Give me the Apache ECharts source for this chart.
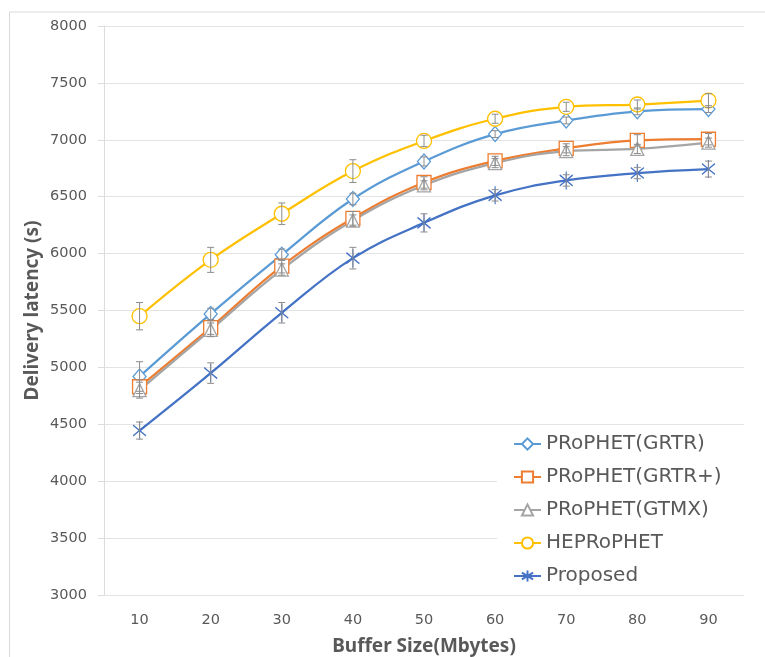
<!DOCTYPE html>
<html>
<head>
<meta charset="utf-8">
<title>Delivery latency vs buffer size</title>
<script src="https://cdn.jsdelivr.net/npm/echarts@6/dist/echarts.min.js"></script>
<style>
  html, body { margin: 0; padding: 0; background: #ffffff; }
  #chart { width: 765px; height: 657px; }
</style>
</head>
<body>
<div id="chart"></div>
<script>
// Buffer sizes (Mbytes) on the category axis
const bufferSizes = ['10', '20', '30', '40', '50', '60', '70', '80', '90'];

// Mean delivery latency (s) per routing scheme
const grtr      = [4920, 5470, 5990, 6480, 6810, 7050, 7170, 7250, 7270];
const grtrPlus  = [4830, 5350, 5890, 6310, 6625, 6815, 6925, 6995, 7005];
const gtmx      = [4800, 5330, 5860, 6290, 6600, 6795, 6900, 6920, 6975];
const heprophet = [5450, 5945, 6350, 6725, 6990, 7185, 7290, 7310, 7345];
const proposed  = [4445, 4950, 5480, 5960, 6270, 6512, 6643, 6708, 6743];

// Half-width of the error bars (s)
const grtrErr      = [130, 50, 50, 50, 40, 30, 30, 30, 30];
const grtrPlusErr  = [60, 60, 60, 60, 50, 40, 40, 50, 50];
const gtmxErr      = [70, 60, 50, 50, 40, 40, 40, 40, 40];
const heprophetErr = [120, 110, 95, 100, 50, 40, 40, 40, 60];
const proposedErr  = [75, 90, 90, 95, 80, 50, 50, 50, 70];

// Y axis range and step
const yMin = 3000, yMax = 8000, yStep = 500;

const seriesNames = ['PRoPHET(GRTR)', 'PRoPHET(GRTR+)', 'PRoPHET(GTMX)', 'HEPRoPHET', 'Proposed'];

const chart = echarts.init(document.getElementById('chart'), null, { renderer: 'canvas' });

const starPath = 'path://M6,0L6,20M0,4L12,16M0,16L12,4';

function lineSeries(name, values, color, symbol, size) {
  return {
    name: name,
    type: 'line',
    data: values,
    smooth: 0.4,
    symbol: symbol,
    symbolSize: size,
    showSymbol: true,
    lineStyle: { color: color, width: 2.25 },
    itemStyle: { color: '#ffffff', borderColor: color, borderWidth: 1.3 },
    emphasis: { disabled: true },
    z: 3
  };
}

function errorSeries(values, errs) {
  const data = values.map((v, i) => [i, v - errs[i], v + errs[i]]);
  return {
    type: 'custom',
    silent: true,
    z: 4,
    data: data,
    encode: { x: 0, y: [1, 2] },
    renderItem: function (params, api) {
      const idx = api.value(0);
      const lo = api.coord([idx, api.value(1)]);
      const hi = api.coord([idx, api.value(2)]);
      const cap = 3.5;
      const style = { stroke: '#8c8c8c', lineWidth: 1 };
      return {
        type: 'group',
        children: [
          { type: 'line', shape: { x1: lo[0], y1: lo[1], x2: hi[0], y2: hi[1] }, style: style },
          { type: 'line', shape: { x1: lo[0] - cap, y1: lo[1], x2: lo[0] + cap, y2: lo[1] }, style: style },
          { type: 'line', shape: { x1: hi[0] - cap, y1: hi[1], x2: hi[0] + cap, y2: hi[1] }, style: style }
        ]
      };
    }
  };
}

const option = {
  backgroundColor: '#ffffff',
  animation: false,
  graphic: [
    {
      type: 'rect',
      shape: { x: 9.5, y: 12, width: 800, height: 700 },
      style: { fill: 'none', stroke: '#d9d9d9', lineWidth: 1 },
      silent: true,
      z: -10
    }
  ],
  grid: { left: 104, right: 21, top: 26, bottom: 62, containLabel: false, outerBoundsMode: 'none' },
  legend: {
    orient: 'vertical',
    left: 497,
    top: 430,
    data: seriesNames,
    backgroundColor: '#ffffff',
    padding: [4, 60, 8, 16],
    itemWidth: 27,
    itemHeight: 14,
    itemGap: 13,
    textStyle: { fontFamily: 'DejaVu Sans', fontSize: 20, color: '#595959' },
    selectedMode: false
  },
  xAxis: {
    type: 'category',
    data: bufferSizes,
    boundaryGap: true,
    axisLine: { show: false },
    axisTick: { show: false },
    axisLabel: { margin: 18, fontFamily: 'DejaVu Sans', fontSize: 14.5, color: '#595959' },
    name: 'Buffer Size(Mbytes)',
    nameLocation: 'middle',
    nameGap: 42,
    nameTextStyle: { fontFamily: 'Noto Sans', fontWeight: 'bold', fontSize: 19, color: '#595959' }
  },
  yAxis: {
    type: 'value',
    min: yMin,
    max: yMax,
    interval: yStep,
    axisLine: { show: true, lineStyle: { color: '#dcdcdc', width: 1 } },
    axisTick: { show: true, length: 6, lineStyle: { color: '#dcdcdc' } },
    splitLine: { show: true, lineStyle: { color: '#e3e3e3', width: 1 } },
    axisLabel: {
      margin: 17,
      fontFamily: 'DejaVu Sans',
      fontSize: 14.5,
      color: '#595959',
      formatter: function (v) { return String(v); }
    },
    name: 'Delivery latency (s)',
    nameLocation: 'middle',
    nameRotate: 90,
    nameGap: 62,
    nameMoveOverlap: false,
    nameTextStyle: { fontFamily: 'Noto Sans', fontWeight: 'bold', fontSize: 19, color: '#595959' }
  },
  series: [
    lineSeries(seriesNames[0], grtr, '#5b9bd5', 'diamond', [13, 15]),
    lineSeries(seriesNames[1], grtrPlus, '#ed7d31', 'rect', 14),
    lineSeries(seriesNames[2], gtmx, '#a5a5a5', 'triangle', 13),
    lineSeries(seriesNames[3], heprophet, '#ffc000', 'circle', 15),
    lineSeries(seriesNames[4], proposed, '#4472c4', starPath, [13, 18]),
    errorSeries(grtr, grtrErr),
    errorSeries(grtrPlus, grtrPlusErr),
    errorSeries(gtmx, gtmxErr),
    errorSeries(heprophet, heprophetErr),
    errorSeries(proposed, proposedErr)
  ]
};

chart.setOption(option);
</script>
</body>
</html>
